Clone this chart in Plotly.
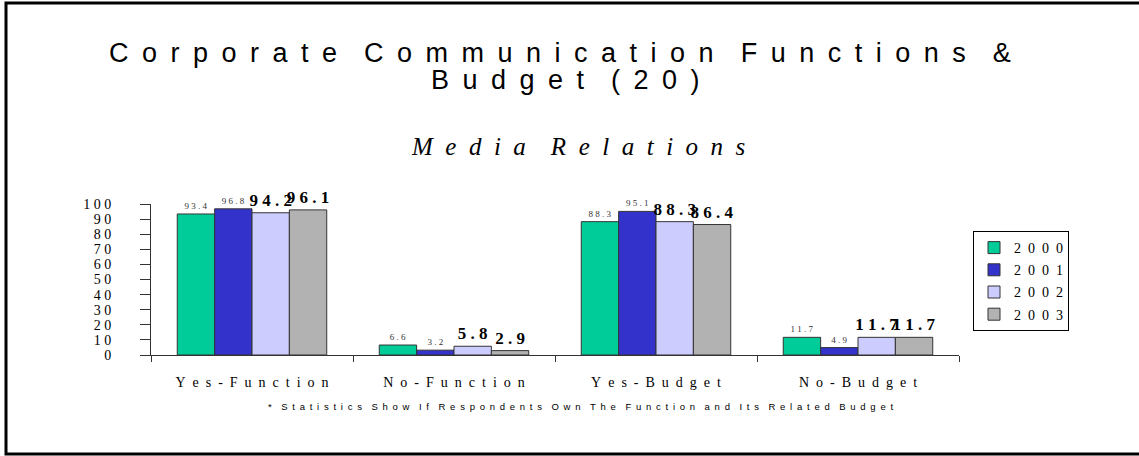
import plotly.graph_objects as go

# ---- data -------------------------------------------------------------
categories = ["Yes - Function", "No - Function", "Yes - Budget", "No - Budget"]
years = ["2000", "2001", "2002", "2003"]
values_2000 = [93.4, 6.6, 88.3, 11.7]
values_2001 = [96.8, 3.2, 95.1, 4.9]
values_2002 = [94.2, 5.8, 88.3, 11.7]
values_2003 = [96.1, 2.9, 86.4, 11.7]
series = [values_2000, values_2001, values_2002, values_2003]

y_tick_values = [0, 10, 20, 30, 40, 50, 60, 70, 80, 90, 100]
y_tick_labels = ["0", "10", "20", "30", "40", "50", "60", "70", "80", "90", "100"]

# ---- styling ----------------------------------------------------------
colors = ["#00CC99", "#3333CC", "#CCCCFF", "#B2B2B2"]
SERIF = "Liberation Serif, Times New Roman, serif"
SANS = "Liberation Sans, Arial, sans-serif"
EN = "\u2002"
EM = "\u2003"
NB = "\u00a0"

W, H = 1139, 456
L, R, T, B = 151, 180, 204, 101
PW, PH = W - L - R, H - T - B


def px2x(px):
    return (px - L) / PW


def py2y(py):
    return (H - B - py) / PH


def spaced(s, gap=" ", wordgap=None):
    wordgap = gap if wordgap is None else wordgap
    return wordgap.join(gap.join(w) for w in s.split(" "))


label_fonts = [
    dict(family=SERIF, size=9, color="#333333"),
    dict(family=SERIF, size=9, color="#333333"),
    dict(family=SERIF, size=17, color="#000000", weight="bold"),
    dict(family=SERIF, size=17, color="#000000", weight="bold"),
]

fig = go.Figure()
for year, vals, col, tf in zip(years, series, colors, label_fonts):
    fig.add_trace(go.Bar(
        name=spaced(year, EN),
        x=categories,
        y=vals,
        marker=dict(color=col, line=dict(color="#333333", width=1)),
        text=[spaced(f"{v:.1f}", NB) for v in vals],
        textposition="outside",
        textfont=tf,
        constraintext="none",
        cliponaxis=False,
        legendgroup=year,
        hoverinfo="x+y",
    ))

fig.update_layout(
    width=W, height=H,
    margin=dict(l=L, r=R, t=T, b=B, pad=0),
    paper_bgcolor="white", plot_bgcolor="white",
    barmode="group", bargap=0.26, bargroupgap=0,
    showlegend=True,
    legend=dict(
        x=px2x(973), y=py2y(231), xanchor="left", yanchor="top",
        bgcolor="white", bordercolor="#000000", borderwidth=1,
        font=dict(family=SERIF, size=14, color="#000000"),
        tracegroupgap=1, itemwidth=30,
    ),
    xaxis=dict(
        type="category",
        tickvals=categories,
        ticktext=[spaced(c, EN) for c in categories],
        tickson="boundaries", ticks="outside", ticklen=6,
        tickcolor="#333333", tickwidth=1,
        showline=True, linecolor="#333333", linewidth=1,
        showgrid=False, zeroline=False,
        tickfont=dict(family=SERIF, size=14, color="#000000"),
        ticklabelstandoff=14,
    ),
    yaxis=dict(
        range=[0, 100],
        tickvals=y_tick_values,
        ticktext=[spaced(t, NB) for t in y_tick_labels],
        ticks="outside", ticklen=10, tickcolor="#333333", tickwidth=1,
        showline=True, linecolor="#333333", linewidth=1,
        showgrid=False, zeroline=False,
        tickfont=dict(family=SERIF, size=14, color="#000000"),
        ticklabelstandoff=26,
    ),
    annotations=[
        dict(
            text=spaced("Corporate Communication Functions &", EN, EM),
            x=px2x(560), y=py2y(53), xref="paper", yref="paper",
            xanchor="center", yanchor="middle", showarrow=False,
            font=dict(family=SANS, size=27, color="#000000"),
        ),
        dict(
            text=spaced("Budget (20)", EN, EM),
            x=px2x(565), y=py2y(80), xref="paper", yref="paper",
            xanchor="center", yanchor="middle", showarrow=False,
            font=dict(family=SANS, size=27, color="#000000"),
        ),
        dict(
            text=spaced("Media Relations", EN, EM),
            x=px2x(578), y=py2y(146), xref="paper", yref="paper",
            xanchor="center", yanchor="middle", showarrow=False,
            font=dict(family=SERIF, size=25, color="#000000", style="italic"),
        ),
        dict(
            text=spaced("* Statistics Show If Respondents Own The Function and Its Related Budget", EN, EM),
            x=px2x(580), y=py2y(406), xref="paper", yref="paper",
            xanchor="center", yanchor="middle", showarrow=False,
            font=dict(family=SANS, size=9.5, color="#000000"),
        ),
    ],
    shapes=[
        dict(type="rect", xref="paper", yref="paper",
             x0=px2x(6), x1=px2x(1142), y0=py2y(454), y1=py2y(3),
             line=dict(color="#000000", width=3), fillcolor="rgba(0,0,0,0)"),
    ],
)

fig.write_html("out.html")
